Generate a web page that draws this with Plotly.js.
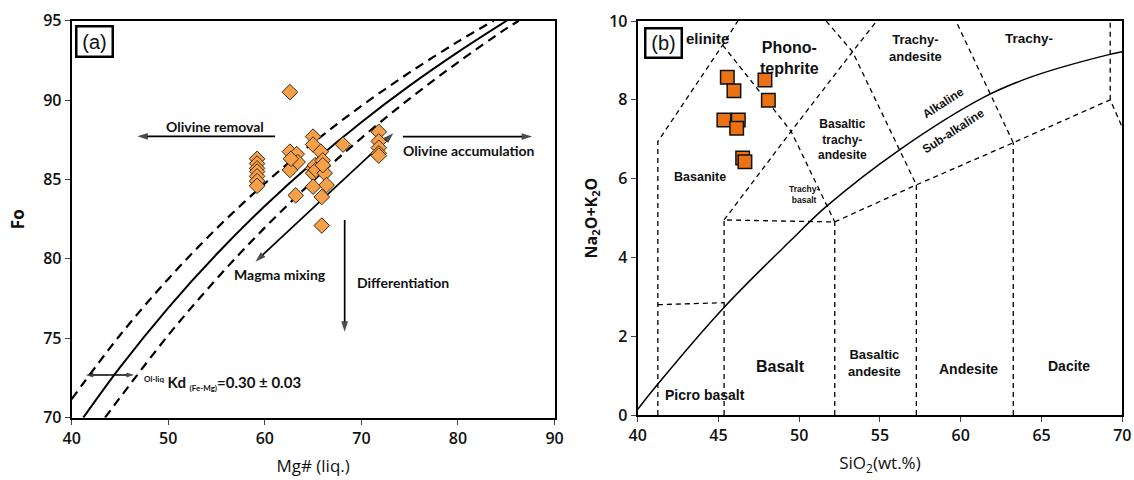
<!DOCTYPE html>
<html>
<head>
<meta charset="utf-8">
<script src="https://cdn.plot.ly/plotly-3.0.1.min.js"></script>
<style>html,body{margin:0;padding:0;background:#fff}#chart{width:1134px;height:480px}</style>
</head>
<body>
<div id="chart"></div>
<script>
// ---------- Panel (a): olivine–liquid equilibrium ----------
const mgLiq = [62.6, 59.2, 59.2, 59.2, 59.2, 59.2, 59.2, 59.2, 62.6, 62.6, 63.3, 63.4, 62.7, 63.2,
  65.0, 65.0, 65.0, 65.0, 65.0, 65.2, 65.3, 65.8, 66.0, 65.9, 65.9, 66.2, 66.4, 66.0, 68.1,
  71.8, 71.8, 71.8, 71.8, 71.8];
const foOlivine = [90.5, 86.3, 86.0, 85.7, 85.5, 85.2, 84.9, 84.6, 86.75, 85.6, 86.6, 86.1, 86.3, 84.0,
  87.7, 87.2, 85.7, 85.4, 84.55, 85.9, 85.6, 86.75, 86.2, 83.9, 82.1, 85.4, 84.65, 85.9, 87.2,
  88.0, 87.4, 87.0, 86.65, 86.5];

// equilibrium curves
const kd030Mg = [41.2, 45, 50, 55, 60, 65, 70, 75, 80, 85.05];
const kd030Fo = [70.0, 73.17, 76.92, 80.29, 83.33, 86.09, 88.61, 90.91, 93.02, 95.0];
const kd027Mg = [40, 45, 50, 55, 60, 65, 70, 75, 80, 83.7];
const kd027Fo = [71.17, 75.19, 78.74, 81.91, 84.75, 87.31, 89.63, 91.74, 93.68, 95.0];
const kd033Mg = [43.45, 45, 50, 55, 60, 65, 70, 75, 80, 85, 86.3];
const kd033Fo = [70.0, 71.26, 75.19, 78.74, 81.97, 84.91, 87.61, 90.09, 92.38, 94.5, 95.0];

const xTicksA = [40, 50, 60, 70, 80, 90];
const yTicksA = [70, 75, 80, 85, 90, 95];

// process arrows in panel (a): [tailX, tailY, headX, headY]
const arrowRemoval = [61.06, 87.72, 46.8, 87.72];
const arrowAccum = [74.3, 87.7, 87.68, 87.7];
const arrowMixUp = [66.17, 83.87, 73.31, 87.91];
const arrowMixDown = [66.17, 83.87, 59.03, 79.82];
const arrowDiff = [68.27, 82.45, 68.27, 75.42];
const arrowKdR = [43.95, 72.69, 46.45, 72.69];
const arrowKdL = [43.95, 72.69, 41.45, 72.69];

// ---------- Panel (b): TAS diagram ----------
const sio2 = [45.55, 45.96, 47.88, 48.09, 45.34, 46.23, 46.13, 46.5, 46.64];
const alkalis = [8.57, 8.23, 8.50, 7.99, 7.49, 7.49, 7.28, 6.52, 6.43];

const alkCurveSi = [40, 41.2, 45.3, 49.5, 51.7, 56.1, 61.5, 64.5, 69.1, 70];
const alkCurveNa = [0.14, 0.76, 2.71, 4.44, 5.3, 6.7, 8.08, 8.6, 9.14, 9.22];

const tasLineSi = [41.25, 41.25, 45.26, 46.2, null,
  41.25, 45.35, null,
  45.35, 45.35, 52.2, null,
  52.2, 52.2, null,
  45.35, 49.5, 53.3, 54.8, null,
  45.26, 49.5, 52.2, null,
  51.67, 53.3, 57.25, null,
  52.2, 57.25, 63.25, 69.25, 70, null,
  57.25, 57.25, null,
  63.25, 63.25, null,
  63.25, 59.7, null,
  69.25, 69.25];
const tasLineNa = [0, 6.94, 9.39, 10, null,
  2.8, 2.85, null,
  0, 4.95, 4.9, null,
  0, 4.9, null,
  4.95, 7.2, 9.22, 10, null,
  9.39, 7.2, 4.9, null,
  10, 9.22, 5.84, null,
  4.9, 5.84, 6.91, 8.0, 7.3, null,
  0, 5.84, null,
  0, 6.91, null,
  6.91, 10, null,
  8.0, 10];

const xTicksB = [40, 45, 50, 55, 60, 65, 70];
const yTicksB = [0, 2, 4, 6, 8, 10];

// ---------- traces ----------
function arrowTrace(a, headSize, w) {
  return {x: [a[0], a[2]], y: [a[1], a[3]], mode: 'lines+markers', xaxis: 'x', yaxis: 'y', hoverinfo: 'skip',
    line: {color: '#000', width: w || 1.7},
    marker: {symbol: 'arrow', angleref: 'previous', size: [0, headSize || 11], color: '#000', line: {width: 0}}};
}

const traces = [
  {x: kd027Mg, y: kd027Fo, mode: 'lines', line: {color: '#000', width: 2.2, dash: '9px,6px', shape: 'spline'}, xaxis: 'x', yaxis: 'y', hoverinfo: 'skip'},
  {x: kd030Mg, y: kd030Fo, mode: 'lines', line: {color: '#000', width: 2, shape: 'spline'}, xaxis: 'x', yaxis: 'y', hoverinfo: 'skip'},
  {x: kd033Mg, y: kd033Fo, mode: 'lines', line: {color: '#000', width: 2.2, dash: '9px,6px', shape: 'spline'}, xaxis: 'x', yaxis: 'y', hoverinfo: 'skip'},
  arrowTrace(arrowRemoval),
  arrowTrace(arrowAccum),
  arrowTrace(arrowMixUp),
  arrowTrace(arrowMixDown),
  arrowTrace(arrowDiff),
  arrowTrace(arrowKdR, 8, 1.4),
  arrowTrace(arrowKdL, 8, 1.4),
  {x: mgLiq, y: foOlivine, mode: 'markers', xaxis: 'x', yaxis: 'y',
   marker: {symbol: 'diamond', size: 12, color: '#F6A04A', line: {color: '#3a2a1a', width: 1}}},
  {x: tasLineSi, y: tasLineNa, mode: 'lines', connectgaps: false, line: {color: '#000', width: 1.3, dash: '5px,4px'}, xaxis: 'x2', yaxis: 'y2', hoverinfo: 'skip'},
  {x: alkCurveSi, y: alkCurveNa, mode: 'lines', line: {color: '#000', width: 1.5, shape: 'spline'}, xaxis: 'x2', yaxis: 'y2', hoverinfo: 'skip'},
  {x: sio2, y: alkalis, mode: 'markers', xaxis: 'x2', yaxis: 'y2',
   marker: {symbol: 'square', size: 13.5, color: '#EA7212', line: {color: '#111', width: 1.5}}}
];

const tickFont = {family: 'Open Sans, sans-serif', size: 16, color: '#111', weight: 600};
function axisBase(extra) {
  return Object.assign({
    showgrid: false, zeroline: false, showline: true, linecolor: '#000', linewidth: 2, mirror: true,
    ticks: 'outside', ticklen: 5, tickwidth: 1, tickcolor: '#444', tickfont: tickFont, tickmode: 'array'
  }, extra);
}

const fa = {family: 'Lato, sans-serif', size: 14, color: '#111', weight: 'bold'};
const fb = (s) => ({family: 'Liberation Sans, Arial, sans-serif', size: s, color: '#111', weight: 'bold'});

function textA(t, x, y, font, anchor) {
  return {xref: 'x', yref: 'y', x: x, y: y, text: t, showarrow: false, font: font || fa, xanchor: anchor || 'center'};
}
function textB(t, x, y, size, angle, anchor) {
  return {xref: 'x2', yref: 'y2', x: x, y: y, text: t, showarrow: false, font: fb(size), textangle: angle || 0, xanchor: anchor || 'center'};
}

const annotations = [
  // panel a
  textA('Olivine removal', 54.85, 88.33),
  textA('Olivine accumulation', 81.05, 86.81),
  textA('Magma mixing', 61.6, 78.99),
  textA('Differentiation', 74.26, 78.5),
  textA("<sup><span style='font-size:8px'>Ol-liq</span></sup> Kd <sub><span style='font-size:8px'>(Fe-Mg)</span></sub>=0.30 ± 0.03",
        47.3, 72.17, {family: 'Lato, sans-serif', size: 15, color: '#111', weight: 'bold'}, 'left'),
  {xref: 'x', yref: 'y', x: 42.39, y: 93.7, text: '(a)', showarrow: false,
   font: {family: 'Liberation Sans, Arial, sans-serif', size: 20, color: '#111'},
   bordercolor: '#000', borderwidth: 2.5, bgcolor: '#fff', width: 32, height: 26},
  // panel b
  textB('elinite', 42.85, 9.55, 15, 0, 'left'),
  {xref: 'x2', yref: 'y2', x: 41.58, y: 9.43, text: '(b)', showarrow: false,
   font: {family: 'Liberation Sans, Arial, sans-serif', size: 20, color: '#111'},
   bordercolor: '#000', borderwidth: 2.5, bgcolor: '#fff', width: 32, height: 25},
  textB('Phono-<br>tephrite', 49.4, 9.07, 16),
  textB('Trachy-<br>andesite', 57.2, 9.31, 13),
  textB('Trachy-', 64.2, 9.56, 13.5),
  textB('Alkaline', 58.9, 7.92, 12, -33),
  textB('Sub-alkaline', 59.55, 7.2, 12, -33),
  textB('Basaltic<br>trachy-<br>andesite', 52.67, 7.0, 12),
  textB('Basanite', 43.84, 6.05, 12.5),
  textB('Trachy-<br>basalt', 50.31, 5.59, 8.5),
  textB('Basalt', 48.85, 1.23, 16),
  textB('Basaltic<br>andesite', 54.68, 1.33, 13),
  textB('Andesite', 60.45, 1.18, 14),
  textB('Dacite', 66.73, 1.24, 14),
  textB('Picro basalt', 41.55, 0.51, 14, 0, 'left')
];

const layout = {
  width: 1134, height: 480,
  margin: {l: 0, r: 0, t: 0, b: 0},
  paper_bgcolor: '#fff', plot_bgcolor: '#fff',
  showlegend: false,
  xaxis: axisBase({domain: [0.0632, 0.489], range: [40, 90], tickvals: xTicksA, ticktext: xTicksA.map(String), anchor: 'y',
    title: {text: 'Mg# (liq.)', font: {family: 'Open Sans, sans-serif', size: 17, color: '#111'}, standoff: 12}}),
  yaxis: axisBase({domain: [0.1298, 0.9569], range: [70, 95], tickvals: yTicksA, ticktext: yTicksA.map(String), anchor: 'x',
    title: {text: '<b>Fo</b>', font: {family: 'Open Sans, sans-serif', size: 17, color: '#111'}, standoff: 14}}),
  xaxis2: axisBase({domain: [0.5623, 0.9897], range: [40, 70], tickvals: xTicksB, ticktext: xTicksB.map(String), anchor: 'y2',
    title: {text: 'SiO<sub>2</sub>(wt.%)', font: {family: 'Open Sans, sans-serif', size: 17, color: '#111'}, standoff: 12}}),
  yaxis2: axisBase({domain: [0.1354, 0.95625], range: [0, 10], tickvals: yTicksB, ticktext: yTicksB.map(String), anchor: 'x2',
    title: {text: '<b>Na<sub>2</sub>O+K<sub>2</sub>O</b>', font: {family: 'Open Sans, sans-serif', size: 16, color: '#111'}, standoff: 8}}),
  annotations: annotations
};

Plotly.newPlot('chart', traces, layout, {displayModeBar: false, staticPlot: true});
</script>
</body>
</html>
